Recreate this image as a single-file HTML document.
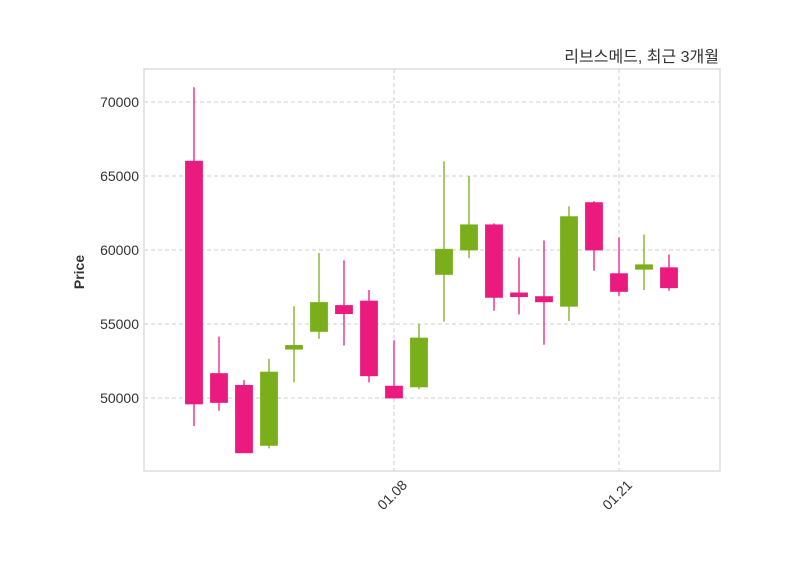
<!DOCTYPE html>
<html><head><meta charset="utf-8"><style>
body{margin:0;background:#fff;}
svg text{font-family:"Liberation Sans","Noto Sans CJK KR",sans-serif;fill:#333;}
</style></head><body>
<svg width="800" height="575" id="chart">
<rect x="0" y="0" width="800" height="575" fill="#fff"/>
<text x="719" y="62" text-anchor="end" font-size="16">리브스메드, 최근 3개월</text>
<text transform="translate(84,272) rotate(-90)" text-anchor="middle" font-size="14" font-weight="bold">Price</text>
<g id="grid"></g>
<g id="marks"></g>
<rect x="144" y="69" width="576" height="402" fill="none" stroke="#ddd" stroke-width="1.5"/>
<g id="axes"></g>
</svg>
<script>
const opens  = [66000,51650,50850,46800,53300,54500,56250,56550,50800,50750,58350,60000,61700,57100,56850,56200,63200,58400,58700,58800];
const closes = [49600,49700,46300,51750,53550,56450,55700,51500,50000,54050,60050,61700,56800,56850,56500,62250,60000,57200,59000,57450];
const highs  = [71000,54150,51200,52650,56200,59800,59300,57300,53900,55000,66000,65000,61800,59500,60650,62950,63300,60850,61050,59700];
const lows   = [48100,49150,46300,46600,51050,54000,53550,51050,50000,50600,55150,59450,55900,55650,53600,55200,58600,56900,57300,57250];
const yTicks = [50000,55000,60000,65000,70000];
const xTickIdx = [8,17];
const xTickLabels = ["01.08","01.21"];
const NS="http://www.w3.org/2000/svg";
function y(v){return 398-(v-50000)*0.0148;}
function x(i){return 194+25*i;}
function mk(t,a,p){const e=document.createElementNS(NS,t);for(const k in a)e.setAttribute(k,a[k]);p.appendChild(e);return e;}
const grid=document.getElementById('grid'),marks=document.getElementById('marks'),axes=document.getElementById('axes');
yTicks.forEach(v=>{
  const l=mk('line',{x1:144,x2:720,y1:y(v),y2:y(v),stroke:'#ccc','stroke-dasharray':'4,3'},grid);
  
  
  const t=mk('text',{x:139,y:y(v)+5,'text-anchor':'end','font-size':14},axes);
  t.textContent=v;
  
  
});
xTickIdx.forEach((i,k)=>{
  const l=mk('line',{x1:x(i),x2:x(i),y1:69,y2:471,stroke:'#ccc','stroke-dasharray':'4,3'},grid);
  
  
  const t=mk('text',{transform:`translate(${x(i)+14},${486}) rotate(-45)`,'text-anchor':'end','font-size':14},axes);
  t.textContent=xTickLabels[k];
  
  
});
opens.forEach((o,i)=>{
  const c=closes[i],up=c>=o,col=up?'#7aae1a':'#ea1a7f';
  const w=mk('line',{x1:x(i),x2:x(i),y1:y(highs[i]),y2:y(lows[i]),stroke:col,'stroke-width':1.3},marks);
  
  
  const top=y(Math.max(o,c)),bot=y(Math.min(o,c));
  const r=mk('rect',{x:x(i)-8.5,y:top,width:17,height:Math.max(bot-top,1),fill:col,stroke:col,'stroke-width':0.8},marks);
  
  
});
</script>
</body></html>
